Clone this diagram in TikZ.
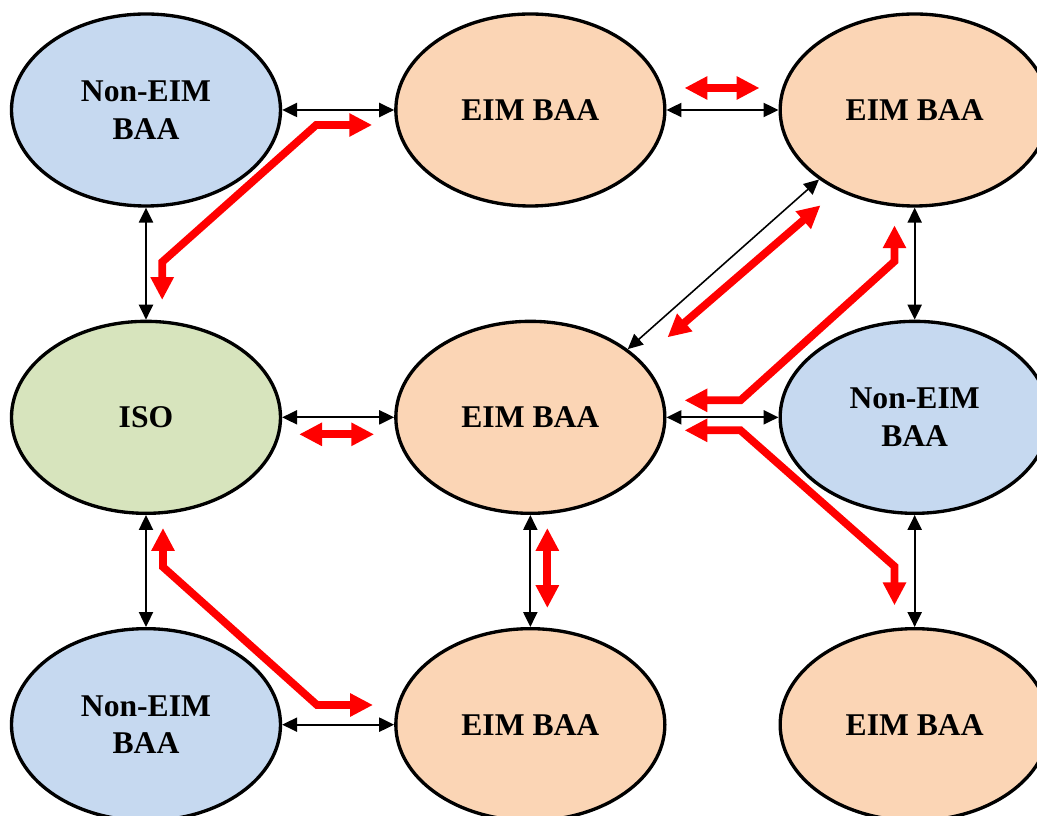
\documentclass[tikz,border=0pt]{standalone}
\usepackage{fontspec}
\setmainfont{Liberation Serif}
\usepackage{xcolor}
\usepackage{tikz}
\usetikzlibrary{shapes.geometric, arrows.meta, positioning}
\definecolor{eimfill}{RGB}{251,213,181}
\definecolor{nonfill}{RGB}{198,217,240}
\definecolor{isofill}{RGB}{215,228,189}
\tikzset{
    area/.style={ellipse, draw, line width=1.9pt, minimum width=5.38cm, minimum height=3.84cm, align=center, font=\fontsize{18}{21.6}\selectfont\bfseries},
    eim/.style={area, fill=eimfill},
    noneim/.style={area, fill=nonfill},
    isoarea/.style={area, fill=isofill},
    link/.style={{Triangle[length=8.5pt,width=8pt]}-{Triangle[length=8.5pt,width=8pt]}, line width=1.1pt},
    flow/.style={{Triangle[length=13pt,width=12.5pt]}-{Triangle[length=13pt,width=12.5pt]}, line width=4.4pt, red},
}

\begin{document}
\begin{tikzpicture}[node distance=2.24cm and 2.24cm]

    \useasboundingbox (-2.92,2.2) rectangle (17.82,-14.12);
    \clip (-2.92,2.2) rectangle (17.82,-14.12);

    % Nodes
    \node[noneim] (nonA) at (0,0) {Non-EIM\\BAA};
    \node[eim, right=of nonA] (eimA) {EIM BAA};
    \node[eim, right=of eimA] (eimB) {EIM BAA};
    \node[isoarea, below=of nonA] (iso) {ISO};
    \node[eim, right=of iso] (eimC) {EIM BAA};
    \node[noneim, right=of eimC] (nonB) {Non-EIM\\BAA};
    \node[noneim, below=of iso] (nonC) {Non-EIM\\BAA};
    \node[eim, right=of nonC] (eimD) {EIM BAA};
    \node[eim, right=of eimD] (eimE) {EIM BAA};

    % Links
    \draw[link] (nonA) -- (eimA);
    \draw[link] (eimA) -- (eimB);
    \draw[link] (nonA) -- (iso);
    \draw[link] (iso) -- (eimC);
    \draw[link] (eimC) -- (nonB);
    \draw[link] (iso) -- (nonC);
    \draw[link] (eimC) -- (eimD);
    \draw[link] (eimB) -- (nonB);
    \draw[link] (nonB) -- (eimE);
    \draw[link] (nonC) -- (eimD);
    \draw[link, line width=0.9pt] (eimC.35) -- (eimB.216);

    % Flows
    \draw[flow] ([xshift=-0.44cm,yshift=-0.3cm]eimA.west) -- ++(-1.12,0) -- ++(-3.08,-2.74) -- ++(0,-0.76);
    \draw[flow] ([xshift=0.36cm,yshift=0.44cm]eimA.east) -- ++(1.5,0);
    \draw[flow] ([xshift=0.02cm,yshift=1.6cm]eimC.east) -- ++(3.06,2.64);
    \draw[flow] ([xshift=0.36cm,yshift=0.34cm]eimC.east) -- ++(1.12,0) -- ++(3.08,2.78) -- ++(0,0.72);
    \draw[flow] ([xshift=0.36cm,yshift=-0.26cm]eimC.east) -- ++(1.12,0) -- ++(3.08,-2.72) -- ++(0,-0.78);
    \draw[flow] ([xshift=0.34cm,yshift=-0.34cm]iso.east) -- ++(1.5,0);
    \draw[flow] ([xshift=0.34cm,yshift=-0.26cm]eimC.south) -- ++(0,-1.6);
    \draw[flow] ([xshift=0.34cm,yshift=-0.26cm]iso.south) -- ++(0,-0.78) -- ++(3.08,-2.76) -- ++(1.12,0);

\end{tikzpicture}
\end{document}
